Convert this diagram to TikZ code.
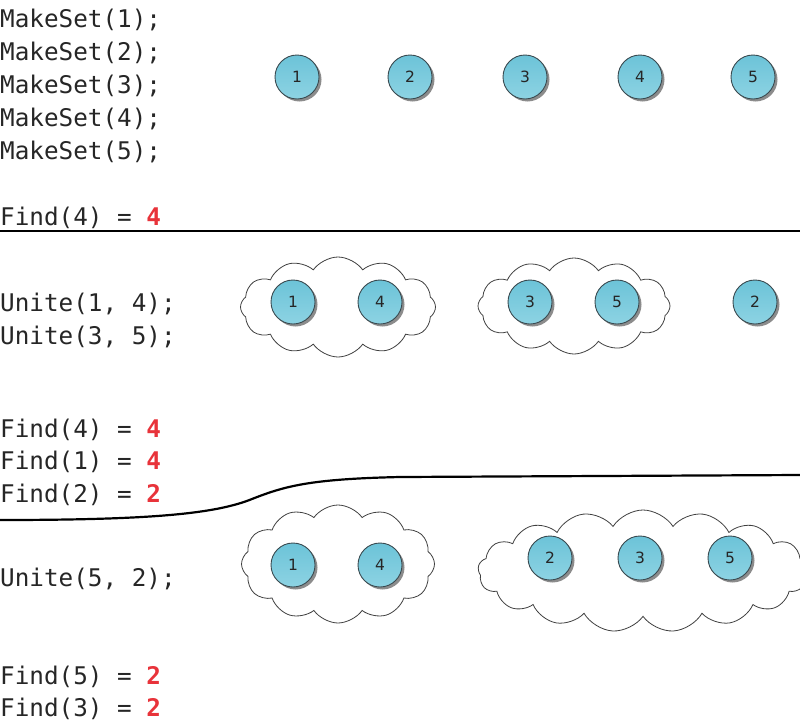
\documentclass[tikz,border=0pt]{standalone}
\usepackage{fontspec}
\setmonofont{DejaVu Sans Mono}
\setsansfont{DejaVu Sans}
\usetikzlibrary{shapes.symbols,shadows}
\definecolor{findred}{HTML}{E8333A}
\definecolor{ctop}{HTML}{6CC3D8}
\definecolor{cbot}{HTML}{8DD3E3}
\definecolor{cborder}{HTML}{3A4A50}
\begin{document}
\begin{tikzpicture}[x=1pt,y=-1pt,
  code/.style={anchor=base west,inner sep=0pt,font=\ttfamily\fontsize{24.3}{28}\selectfont,text=black!85},
  elem/.style={circle,draw=cborder,line width=0.9pt,minimum size=44pt,inner sep=0pt,
    top color=ctop,bottom color=cbot,font=\sffamily\fontsize{15.5}{17}\selectfont,text=black!85,
    drop shadow={shadow xshift=2.5pt,shadow yshift=-2.5pt,opacity=0.45,fill=black}},
  setcloud/.style={cloud,draw=black!75,line width=0.8pt,cloud puffs=12,cloud puff arc=110,cloud ignores aspect,inner sep=0pt,fill=white},
  sep/.style={line width=2.2pt,black}
]
\useasboundingbox (0,0) rectangle (800,723);
% texts
\node[code] (m1) at (0,27) {MakeSet(1);};
\node[code] (m2) at (0,60) {MakeSet(2);};
\node[code] (m3) at (0,93) {MakeSet(3);};
\node[code] (m4) at (0,126) {MakeSet(4);};
\node[code] (m5) at (0,159) {MakeSet(5);};
\node[code] (f1) at (0,225) {Find(4) = \textcolor{findred}{\textbf{4}}};
\node[code] (u1) at (0,311) {Unite(1, 4);};
\node[code] (u2) at (0,344) {Unite(3, 5);};
\node[code] (f2) at (0,437) {Find(4) = \textcolor{findred}{\textbf{4}}};
\node[code] (f3) at (0,469) {Find(1) = \textcolor{findred}{\textbf{4}}};
\node[code] (f4) at (0,502) {Find(2) = \textcolor{findred}{\textbf{2}}};
\node[code] (u3) at (0,586) {Unite(5, 2);};
\node[code] (f5) at (0,684) {Find(5) = \textcolor{findred}{\textbf{2}}};
\node[code] (f6) at (0,716) {Find(3) = \textcolor{findred}{\textbf{2}}};
% separators
\draw[sep] (0,520) .. controls (150,520) and (215,514) .. (252,499)
  .. controls (285,486) and (310,479) .. (400,477) -- (800,475);
\draw[sep] (0,231) -- (800,231);
% row 1
\node[elem] (a1) at (297,77) {1};
\node[elem] (a2) at (410,77) {2};
\node[elem] (a3) at (525,77) {3};
\node[elem] (a4) at (640,77) {4};
\node[elem] (a5) at (753,77) {5};
% row 2
\node[setcloud,minimum width=195pt,minimum height=100pt] (c1) at (338,307) {};
\node[setcloud,minimum width=192pt,minimum height=96pt] (c2) at (574,306) {};
\node[elem] (b1) at (293,302) {1};
\node[elem] (b4) at (380,302) {4};
\node[elem] (b3) at (530,302) {3};
\node[elem] (b5) at (617,302) {5};
\node[elem] (b2) at (755,302) {2};
% row 3
\node[setcloud,minimum width=193pt,minimum height=118pt] (d1) at (338,564) {};
\node[setcloud,minimum width=330pt,minimum height=122pt,cloud puffs=17,cloud puff arc=115] (d2) at (643,571) {};
\node[elem] (e1) at (293,565) {1};
\node[elem] (e4) at (380,565) {4};
\node[elem] (e2) at (550,558) {2};
\node[elem] (e3) at (640,558) {3};
\node[elem] (e5) at (730,558) {5};
\end{tikzpicture}
\end{document}
